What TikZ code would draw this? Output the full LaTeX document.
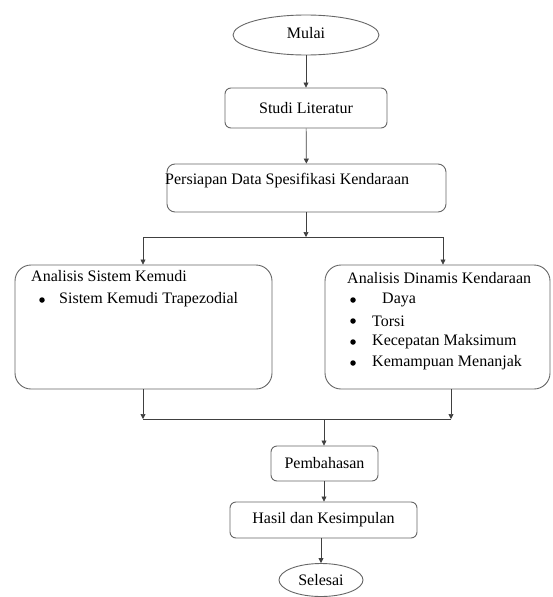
\documentclass[tikz,border=0pt]{standalone}
\usepackage{fontspec}
\setmainfont{Liberation Serif}
\usetikzlibrary{shapes.geometric,arrows.meta}

\begin{document}
\begin{tikzpicture}[x=1pt,y=-1pt,font=\fontsize{16}{19}\selectfont,
  box/.style={draw=black!60,line width=0.9pt,rounded corners=6pt,inner sep=0pt},
  bigbox/.style={draw=black!60,line width=0.9pt,rounded corners=16pt,inner sep=0pt},
  oval/.style={draw=black!60,line width=0.9pt,ellipse,inner sep=0pt},
  txt/.style={anchor=west,inner sep=0pt},
  dot/.style={circle,fill=black,inner sep=0pt,minimum size=5.5pt},
  ln/.style={draw=black!75,line width=0.7pt},
  arr/.style={draw=black!75,line width=0.7pt,-{Triangle[length=5pt,width=5pt]}}]
\useasboundingbox (0,0) rectangle (552,597);

\node [oval,minimum width=146pt,minimum height=40pt,text depth=5pt] (mulai) at (306,35) {Mulai};
\node [box,minimum width=162pt,minimum height=40pt] (studi) at (306,108) {Studi Literatur};

\node [box,rounded corners=8pt,minimum width=279pt,minimum height=48pt] (persiapan) at (306.5,188) {};
\node [txt] (persiapanTxt) at (165,181) {Persiapan Data Spesifikasi Kendaraan};

% cabang ke dua analisis
\coordinate (cabang) at (306,237);
\coordinate (cabangKiri) at (143,237);
\coordinate (cabangKanan) at (443,237);

\node [bigbox,minimum width=257pt,minimum height=124pt] (kemudi) at (143.5,327) {};
\node [txt] (kemudiJudul) at (31,276) {Analisis Sistem Kemudi};
\node [dot] (kemudiDot) at (42,300) {};
\node [txt] (kemudiSatu) at (59,300) {Sistem Kemudi Trapezodial};

\node [bigbox,minimum width=225pt,minimum height=124pt] (dinamis) at (437.5,327) {};
\node [txt] (dinamisJudul) at (347,278) {Analisis Dinamis Kendaraan};
\node [dot] (dinamisDotA) at (353,300) {};
\node [dot] (dinamisDotB) at (353,321) {};
\node [dot] (dinamisDotC) at (353,342) {};
\node [dot] (dinamisDotD) at (353,363) {};
\node [txt] (daya) at (382,300) {Daya};
\node [txt] (torsi) at (372,321) {Torsi};
\node [txt] (kecepatan) at (372,342) {Kecepatan Maksimum};
\node [txt] (menanjak) at (372,363) {Kemampuan Menanjak};

% gabung
\coordinate (gabungKiri) at (143,419);
\coordinate (gabungKanan) at (451,419);
\coordinate (gabung) at (324,419);

\node [box,minimum width=107pt,minimum height=35pt] (pembahasan) at (324.5,463.5) {Pembahasan};
\node [box,minimum width=187pt,minimum height=36pt] (hasil) at (323.5,520) {Hasil dan Kesimpulan};
\node [oval,minimum width=84pt,minimum height=33pt] (selesai) at (321,580) {Selesai};

\draw [arr] (mulai) -- (studi);
\draw [arr] (studi) -- (persiapan);
\draw [arr] (persiapan.south -| cabang) -- (cabang);
\draw [ln] (cabangKiri) -- (cabangKanan);
\draw [arr] (cabangKiri) -- (cabangKiri |- kemudi.north);
\draw [arr] (cabangKanan) -- (cabangKanan |- dinamis.north);

\draw [arr] (kemudi.south -| gabungKiri) -- (gabungKiri);
\draw [arr] (dinamis.south -| gabungKanan) -- (gabungKanan);
\draw [ln] (gabungKiri) -- (gabungKanan);
\draw [arr] (gabung) -- (gabung |- pembahasan.north);
\draw [arr] (pembahasan.south -| gabung) -- (gabung |- hasil.north);
\draw [arr] (hasil.south -| selesai.north) -- (selesai.north);
\end{tikzpicture}
\end{document}
